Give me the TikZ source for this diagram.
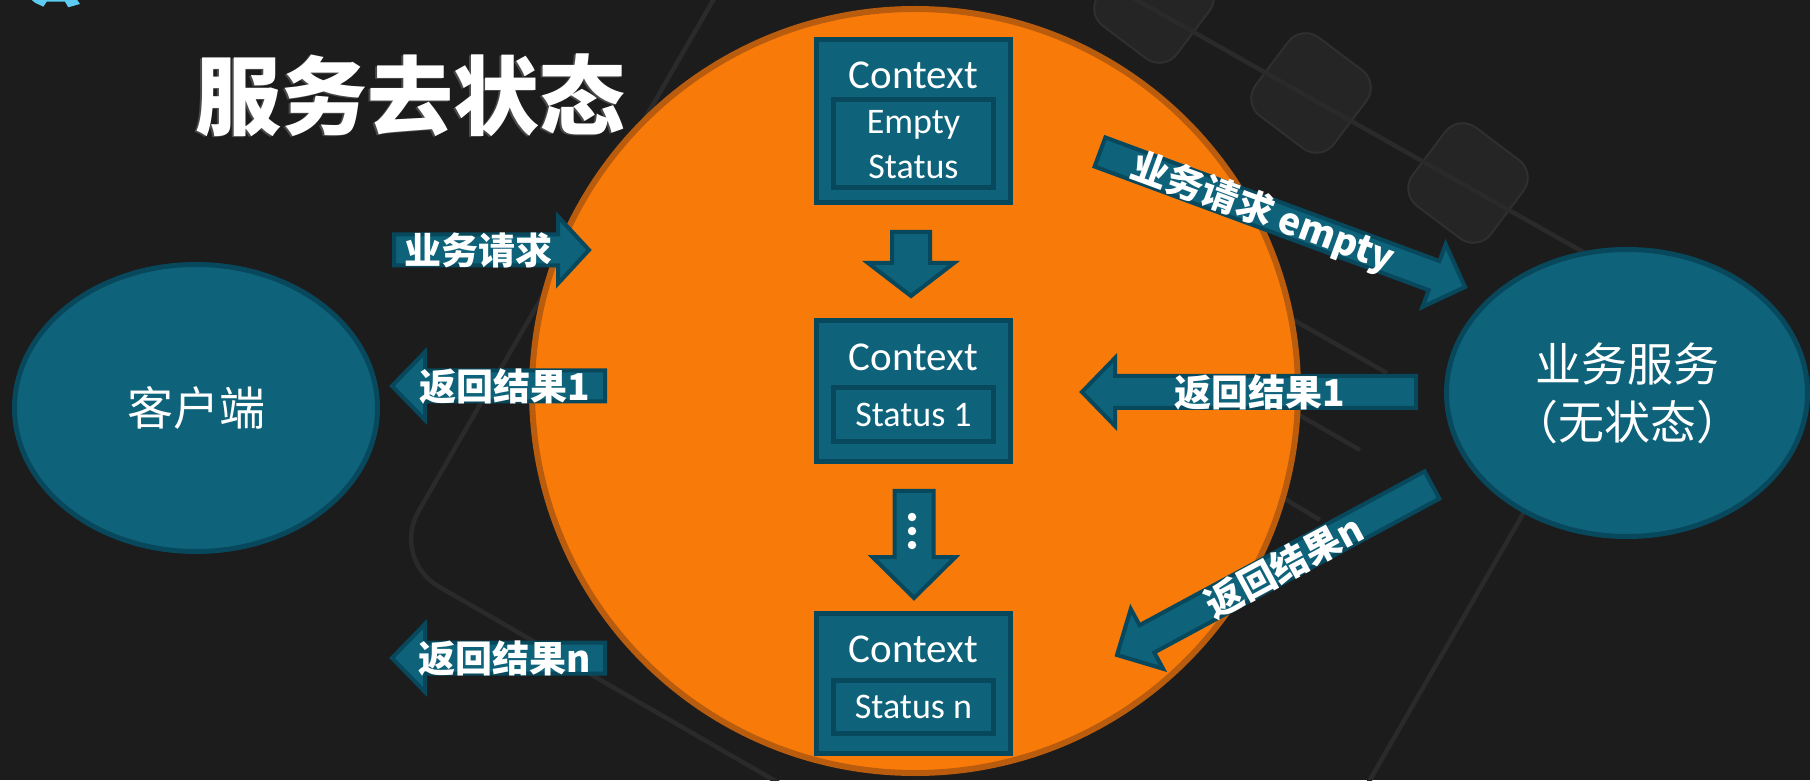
\documentclass[tikz,border=0pt]{standalone}
\usepackage{fontspec}
\setmainfont{Carlito}
\newfontfamily\cjk{Noto Sans CJK SC}
\usetikzlibrary{calc,shapes.geometric}
\definecolor{bg}{HTML}{1C1C1C}
\definecolor{decoline}{HTML}{2A2A2A}
\definecolor{decofill}{HTML}{252525}
\definecolor{decoedge}{HTML}{2F2F2F}
\definecolor{orangefill}{HTML}{F87B0A}
\definecolor{orangeedge}{HTML}{BA5C0E}
\definecolor{tealfill}{HTML}{0E627A}
\definecolor{tealdark}{HTML}{08485C}
\definecolor{iconblue}{HTML}{5ECBF2}
\definecolor{titleshadow}{HTML}{4A4A4A}
% block arrow: tail, tip, body half width, head half width, head length
\newcommand\blockarr[5]{%
  \coordinate (hb) at ($(#2)!#5pt!(#1)$);
  \filldraw[blockarrow] ($(#1)!#3pt!90:(#2)$) -- ($(hb)!#3pt!90:(#2)$) -- ($(hb)!#4pt!90:(#2)$) -- (#2) -- ($(hb)!#4pt!-90:(#2)$) -- ($(hb)!#3pt!-90:(#2)$) -- ($(#1)!#3pt!-90:(#2)$) -- cycle;
}
\begin{document}
\begin{tikzpicture}[x=1pt,y=1pt,
  decoln/.style={draw=decoline, line width=4.5pt},
  decosq/.style={fill=decofill, draw=decoedge, line width=2pt, rounded corners=22pt},
  blockarrow/.style={fill=tealfill, draw=tealdark, line width=4pt, line join=miter},
  arrowtext/.style={text=white, font=\cjk\bfseries\fontsize{37}{40}\selectfont, inner sep=0pt},
  outerbox/.style={fill=tealfill, draw=tealdark, line width=5pt, minimum width=194pt, inner sep=0pt},
  innerbox/.style={fill=tealfill, draw=tealdark, line width=5pt, minimum width=160pt, inner sep=0pt},
  ctxtext/.style={text=white, font=\fontsize{41}{48}\selectfont, inner sep=0pt, text height=26.4pt, text depth=0pt},
  subtext/.style={text=white, font=\fontsize{36}{42}\selectfont, inner sep=0pt, text height=23.2pt, text depth=0pt},
  bigellipse/.style={ellipse, fill=tealfill, draw=tealdark, line width=5pt, inner sep=0pt, text=white, font=\cjk\fontsize{46}{58}\selectfont, align=center},
  dotnode/.style={circle, fill=white, inner sep=0pt, minimum size=8.5pt}
]
\fill[bg] (0,0) rectangle (1810,780);
\useasboundingbox (0,0) rectangle (1810,780);

% background decoration
\foreach \cx/\cy in {1154/777, 1311/687, 1468/597} {
  \begin{scope}[shift={(\cx,\cy)}, rotate=-37]
    \draw[decosq] (-49,-49) rectangle (49,49);
  \end{scope}
}
\draw[decoln] (1119,790) -- (1810,400);
\draw[decoln, rounded corners=55pt] (719,790) -- (391,221) -- (791,-10);
\draw[decoln] (1260,479) -- (1387,407);
\draw[decoln] (1260,387.4) -- (1360,330);
\draw[decoln] (1250,302) -- (1320,260);
\draw[decoln] (1367,-5) -- (1600,400);
\fill[iconblue] (31.7,780) -- (35,777.3) -- (43.3,773.3) -- (46.7,778.3) -- (65,778.3) -- (68.3,772.7) -- (80,776) -- (77.3,780) -- cycle;

% main shapes
\node[ellipse, minimum width=766pt, minimum height=764pt, fill=orangefill, draw=orangeedge, line width=6pt, inner sep=0pt] (ctxcircle) at (915,389) {};
\node[bigellipse, minimum width=363pt, minimum height=287pt] (client) at (196,372) {客户端};
\node[bigellipse, minimum width=361pt, minimum height=287pt] (service) at (1627,387) {业务服务\\（无状态）};

% title
\node[text=titleshadow, font=\cjk\bfseries\fontsize{86}{90}\selectfont, inner sep=0pt] (titleshadow) at (408.5,683.5) {服务去状态};
\node[text=white, font=\cjk\bfseries\fontsize{86}{90}\selectfont, inner sep=0pt] (title) at (410,685) {服务去状态};

% context boxes
\node[outerbox, minimum height=163pt] (box1) at (913.5,659) {};
\node[innerbox, minimum height=88pt] (inner1) at (913.5,636.5) {};
\node[ctxtext] (ctx1) at (913.5,705) {Context};
\node[subtext] (empty1) at (913.5,658) {Empty};
\node[subtext] (status0) at (913.5,613) {Status};

\node[outerbox, minimum height=141pt] (box2) at (913.5,389) {};
\node[innerbox, minimum height=54pt] (inner2) at (913.5,365.5) {};
\node[ctxtext] (ctx2) at (913.5,423) {Context};
\node[subtext] (status1) at (913.5,365) {Status 1};

\node[outerbox, minimum height=140pt] (box3) at (913.5,96.5) {};
\node[innerbox, minimum height=53pt] (inner3) at (913.5,73) {};
\node[ctxtext] (ctx3) at (913.5,131) {Context};
\node[subtext] (statusn) at (913.5,73) {Status n};

% arrow end points
\coordinate (a1A) at (911,548);  \coordinate (a1B) at (911,484);
\coordinate (a2A) at (914,289);  \coordinate (a2B) at (914,182);
\coordinate (reqA) at (394,530); \coordinate (reqB) at (589,530);
\coordinate (r1lA) at (605,394); \coordinate (r1lB) at (392,394);
\coordinate (rnlA) at (605,122); \coordinate (rnlB) at (392,122);
\coordinate (r1rA) at (1416,388); \coordinate (r1rB) at (1082,388);
\coordinate (empA) at (1100,628); \coordinate (empB) at (1465,493);
\coordinate (rnrA) at (1432,295); \coordinate (rnrB) at (1117,125);

\blockarr{a1A}{a1B}{19}{43}{33}
\blockarr{a2A}{a2B}{19.5}{41.5}{41}
\blockarr{reqA}{reqB}{15.5}{33.5}{31}
\blockarr{r1lA}{r1lB}{15.5}{34}{33}
\blockarr{rnlA}{rnlB}{15.5}{34}{33}
\blockarr{r1rA}{r1rB}{16}{34}{33}
\blockarr{empA}{empB}{15.5}{33.5}{33}
\blockarr{rnrA}{rnrB}{15.5}{34}{34}

\node[dotnode] (dot1) at (912,263) {};
\node[dotnode] (dot2) at (912,249) {};
\node[dotnode] (dot3) at (912,235) {};

% arrow labels
\node[arrowtext] (reqtext) at (478,530) {业务请求};
\node[arrowtext] (r1ltext) at (505,394) {返回结果1};
\node[arrowtext] (rnltext) at (505,122) {返回结果n};
\node[arrowtext] (r1rtext) at (1260,388) {返回结果1};
\node[arrowtext, rotate=-20.2] (emptext) at (1263,567) {业务请求 empty};
\node[arrowtext, rotate=28.3] (rnrtext) at (1284,214) {返回结果n};
\end{tikzpicture}
\end{document}
